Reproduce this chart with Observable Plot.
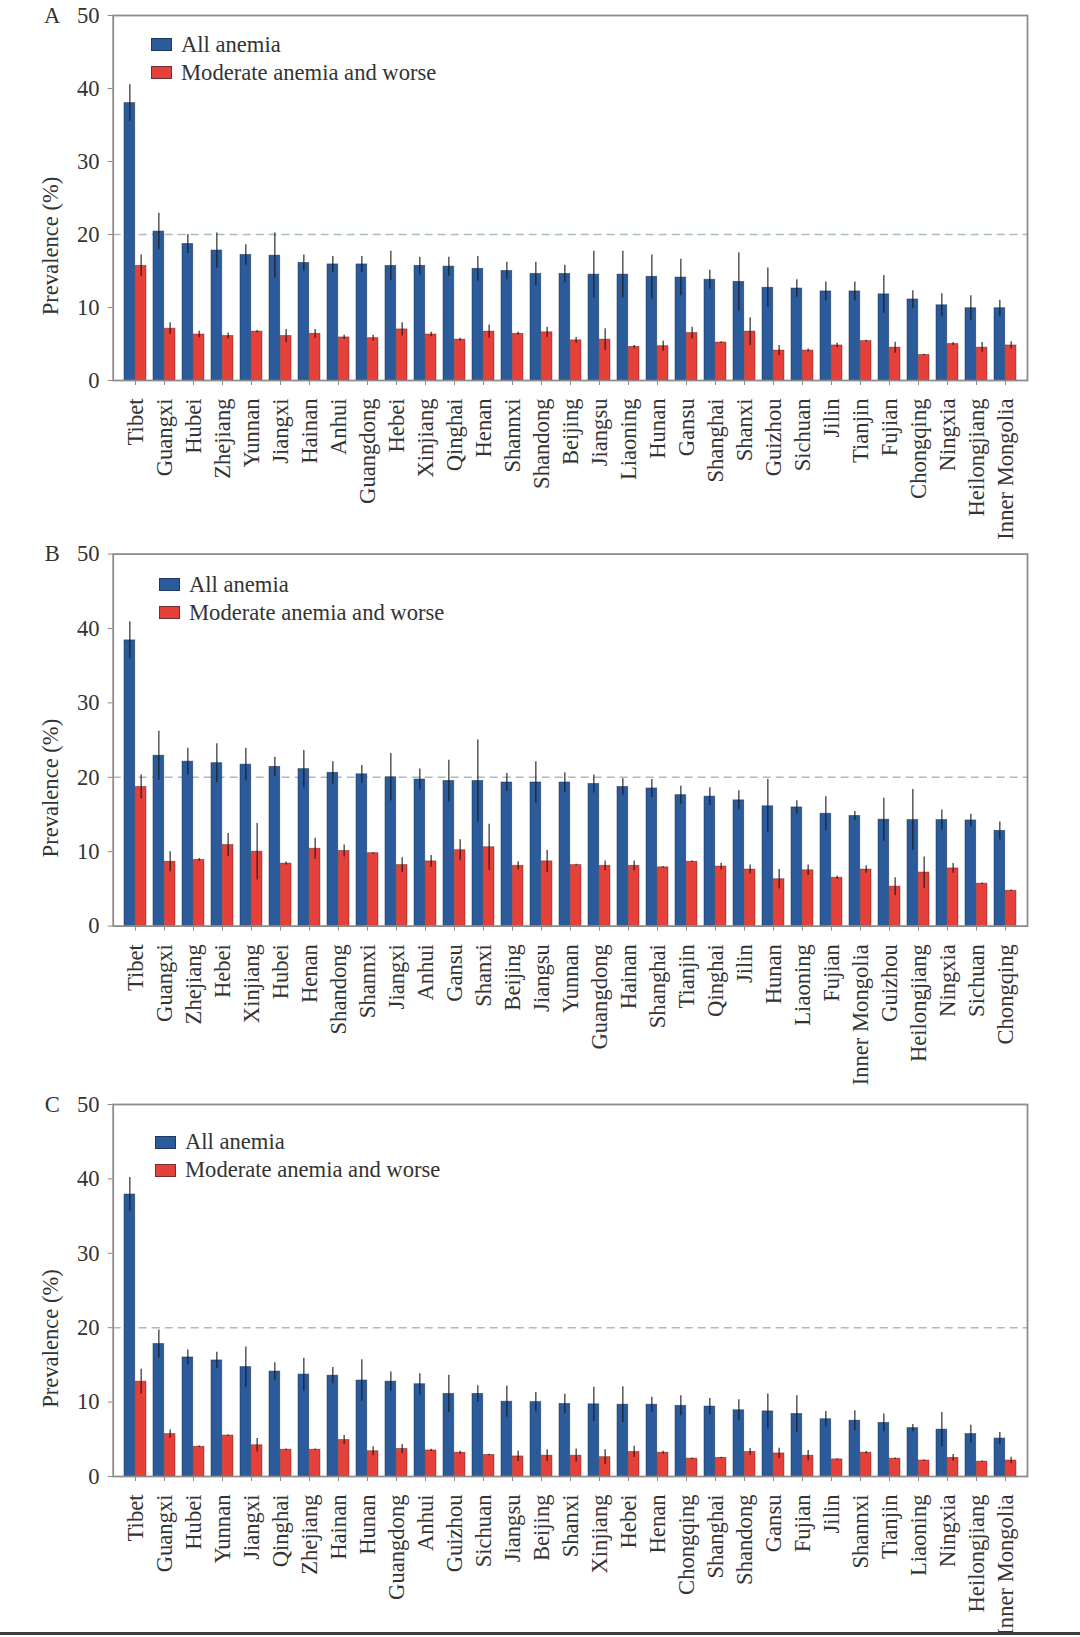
<!DOCTYPE html>
<html>
<head>
<meta charset="utf-8">
<script src="https://cdn.jsdelivr.net/npm/d3@7"></script>
<script src="https://cdn.jsdelivr.net/npm/@observablehq/plot@0.6"></script>
<style>
  html, body { margin: 0; padding: 0; background: #fff; }
  body { width: 1080px; height: 1637px; position: relative; overflow: hidden;
         font-family: "Liberation Serif", "Times New Roman", serif; color: #333; }
  .panel { position: absolute; left: 0; width: 1080px; }
  .panel svg { display: block; }
  .legend { position: absolute; font-size: 22.6px; color: #333; line-height: 28px; }
  .legend .row { display: flex; align-items: center; height: 28px; }
  .legend .sw { width: 21px; height: 13px; margin-right: 9px; border: 1px solid rgba(20,30,50,0.55); box-sizing: border-box; }
  .bottomline { position: absolute; left: 0; top: 1632px; width: 1080px; height: 3px; background: #3d3d3d; }
</style>
</head>
<body>
<div id="panelA" class="panel" style="top:0px"></div>
<div id="panelB" class="panel" style="top:540px"></div>
<div id="panelC" class="panel" style="top:1090px"></div>
<div class="bottomline"></div>
<script>
// ---------------- data ----------------
const seriesNames = ["All anemia", "Moderate anemia and worse"];
const yTicks = [0, 10, 20, 30, 40, 50];
const threshold = [20];
const axisTitle = "Prevalence (%)";

// Panel A
const namesA = ["Tibet","Guangxi","Hubei","Zhejiang","Yunnan","Jiangxi","Hainan","Anhui","Guangdong","Hebei","Xinjiang","Qinghai","Henan","Shannxi","Shandong","Beijing","Jiangsu","Liaoning","Hunan","Gansu","Shanghai","Shanxi","Guizhou","Sichuan","Jilin","Tianjin","Fujian","Chongqing","Ningxia","Heilongjiang","Inner Mongolia"];
const allA    = [38.0,20.4,18.7,17.8,17.2,17.1,16.1,15.9,15.9,15.7,15.7,15.6,15.3,15.0,14.6,14.6,14.5,14.5,14.2,14.1,13.8,13.5,12.7,12.6,12.2,12.2,11.8,11.1,10.3,9.9,9.9];
const allErrA = [2.5,2.5,1.3,2.4,1.4,3.1,1.1,1.1,1.1,2.0,1.2,1.3,1.7,1.2,1.6,1.2,3.2,3.2,3.0,2.5,1.3,4.0,2.7,1.2,1.3,1.3,2.6,1.2,1.6,1.7,1.1];
const modA    = [15.7,7.1,6.3,6.1,6.7,6.1,6.4,5.9,5.8,7.0,6.3,5.6,6.7,6.4,6.6,5.5,5.6,4.6,4.7,6.5,5.2,6.7,4.1,4.1,4.8,5.4,4.5,3.5,5.0,4.5,4.8];
const modErrA = [1.5,0.8,0.45,0.4,0.15,0.9,0.6,0.3,0.4,0.9,0.3,0.2,0.9,0.2,0.7,0.4,1.5,0.2,0.7,0.8,0.1,1.9,0.7,0.2,0.3,0.1,0.75,0.1,0.2,0.7,0.5];

// Panel B
const namesB = ["Tibet","Guangxi","Zhejiang","Hebei","Xinjiang","Hubei","Henan","Shandong","Shannxi","Jiangxi","Anhui","Gansu","Shanxi","Beijing","Jiangsu","Yunnan","Guangdong","Hainan","Shanghai","Tianjin","Qinghai","Jilin","Hunan","Liaoning","Fujian","Inner Mongolia","Guizhou","Heilongjiang","Ningxia","Sichuan","Chongqing"];
const allB    = [38.4,22.9,22.1,21.9,21.7,21.4,21.1,20.6,20.4,20.0,19.7,19.5,19.5,19.3,19.3,19.3,19.1,18.7,18.5,17.6,17.4,16.9,16.1,15.95,15.1,14.8,14.3,14.25,14.25,14.2,12.8];
const allErrB = [2.5,3.3,1.8,2.6,2.2,1.3,2.5,1.5,1.2,3.2,1.4,2.8,5.5,1.2,2.8,1.3,1.2,1.1,1.2,1.2,1.2,1.3,3.6,0.9,2.3,0.6,2.9,4.1,1.35,0.85,1.2];
const modB    = [18.7,8.65,8.9,10.9,10.0,8.4,10.4,10.1,9.8,8.2,8.7,10.2,10.6,8.1,8.7,8.2,8.1,8.1,7.9,8.65,8.0,7.6,6.3,7.5,6.5,7.6,5.3,7.2,7.75,5.7,4.75];
const modErrB = [1.6,1.35,0.2,1.55,3.8,0.2,1.4,0.8,0.1,1.0,0.8,1.4,3.1,0.55,1.45,0.1,0.65,0.65,0.1,0.1,0.45,0.6,1.3,0.7,0.2,0.5,1.2,2.1,0.65,0.1,0.1];

// Panel C
const namesC = ["Tibet","Guangxi","Hubei","Yunnan","Jiangxi","Qinghai","Zhejiang","Hainan","Hunan","Guangdong","Anhui","Guizhou","Sichuan","Jiangsu","Beijing","Shanxi","Xinjiang","Hebei","Henan","Chongqing","Shanghai","Shandong","Gansu","Fujian","Jilin","Shannxi","Tianjin","Liaoning","Ningxia","Heilongjiang","Inner Mongolia"];
const allC    = [37.9,17.8,16.0,15.6,14.7,14.1,13.7,13.55,12.9,12.75,12.4,11.1,11.1,10.05,10.0,9.75,9.7,9.65,9.65,9.5,9.4,8.9,8.75,8.4,7.7,7.5,7.2,6.5,6.3,5.7,5.1];
const allErrC = [2.3,1.9,1.0,1.1,2.7,1.2,2.2,1.1,2.8,1.3,1.4,2.5,1.1,2.1,1.3,1.3,2.3,2.4,1.0,1.35,1.1,1.4,2.35,2.45,1.05,1.35,1.2,0.5,2.3,1.2,0.8];
const modC    = [12.75,5.7,4.0,5.5,4.2,3.6,3.6,4.9,3.4,3.7,3.5,3.2,2.9,2.7,2.8,2.8,2.6,3.3,3.2,2.4,2.5,3.3,3.1,2.8,2.3,3.2,2.4,2.15,2.5,2.0,2.15];
const modErrC = [1.65,0.55,0.1,0.1,0.9,0.1,0.1,0.6,0.6,0.6,0.15,0.2,0.1,0.7,0.8,0.9,1.0,0.75,0.2,0.1,0.1,0.45,0.7,0.7,0.1,0.15,0.1,0.1,0.45,0.1,0.45];

// ---------------- styles ----------------
const BLUE = "#2b5b9b";
const RED = "#e5403a";
const FRAME = "#8c8c8c";
const TEXT = "#333";
const FONT = '"Liberation Serif", "Times New Roman", serif';
const FS = 22.6;

const WIDTH = 1080, ML = 112.7, MR = 53, PAD = 0.23;

function bandwidthOf(n) {
  const W = WIDTH - ML - MR;
  const step = W / (n - PAD + 2 * PAD);
  return step * (1 - PAD);
}

function makePanel(elId, letter, names, all, allErr, mod, modErr, geo) {
  const data = names.map((name, i) => ({
    name, all: all[i], allErr: allErr[i], mod: mod[i], modErr: modErr[i]
  }));
  const bw = bandwidthOf(names.length);
  const chart = Plot.plot({
    width: WIDTH,
    height: geo.height,
    marginTop: geo.mt,
    marginBottom: geo.mb,
    marginLeft: ML,
    marginRight: MR,
    style: { fontFamily: FONT, fontSize: FS + "px", color: TEXT, background: "#fff" },
    x: { domain: names, padding: PAD, label: null },
    y: { domain: [yTicks[0], yTicks[yTicks.length - 1]], label: null },
    marks: [
      Plot.ruleY(threshold, { stroke: "#a6bcc7", strokeWidth: 1.6, strokeDasharray: "8,5" }),
      Plot.barY(data, { x: "name", y: "all", fill: BLUE, stroke: "#142a4a", strokeOpacity: 0.6, strokeWidth: 0.8, insetRight: bw / 2 }),
      Plot.barY(data, { x: "name", y: "mod", fill: RED, stroke: "#4a1512", strokeOpacity: 0.5, strokeWidth: 0.8, insetLeft: bw / 2 }),
      Plot.ruleX(data, { x: "name", y1: d => d.all - d.allErr, y2: d => d.all + d.allErr, dx: -bw / 4, stroke: "#1a1a1a", strokeWidth: 1.1 }),
      Plot.ruleX(data, { x: "name", y1: d => d.mod - d.modErr, y2: d => d.mod + d.modErr, dx: bw / 4, stroke: "#1a1a1a", strokeWidth: 1.1 }),
      Plot.frame({ stroke: FRAME, strokeWidth: 1.8 }),
      Plot.axisY({ ticks: yTicks, tickSize: 5, tickPadding: 8.7, stroke: FRAME, fill: TEXT, fontSize: FS, label: null }),
      Plot.axisX({ tickSize: 5, tickPadding: 13, tickRotate: -90, stroke: FRAME, fill: TEXT, fontSize: FS, label: null }),
      Plot.text([letter], { text: d => d, frameAnchor: "top-left", dx: -61, textAnchor: "middle", lineAnchor: "middle", fontSize: FS, fill: TEXT }),
      Plot.text([axisTitle], { text: d => d, frameAnchor: "left", dx: -62.7, dy: 48, rotate: -90, textAnchor: "middle", lineAnchor: "middle", fontSize: FS, fill: TEXT })
    ]
  });
  const el = document.getElementById(elId);
  el.appendChild(chart);

  // legend (HTML, over the chart)
  const lg = document.createElement("div");
  lg.className = "legend";
  lg.style.left = geo.legendX + "px";
  lg.style.top = (geo.mt + geo.legendY - 14) + "px";
  [BLUE, RED].forEach((c, i) => {
    const row = document.createElement("div");
    row.className = "row";
    const sw = document.createElement("div");
    sw.className = "sw";
    sw.style.background = c;
    const tx = document.createElement("span");
    tx.textContent = seriesNames[i];
    row.appendChild(sw);
    row.appendChild(tx);
    lg.appendChild(row);
  });
  el.appendChild(lg);
}

makePanel("panelA", "A", namesA, allA, allErrA, modA, modErrA, { height: 540, mt: 15, mb: 160, legendX: 151, legendY: 29.5 });
makePanel("panelB", "B", namesB, allB, allErrB, modB, modErrB, { height: 550, mt: 13.6, mb: 164.4, legendX: 159, legendY: 31 });
makePanel("panelC", "C", namesC, allC, allErrC, modC, modErrC, { height: 547, mt: 14, mb: 161, legendX: 155, legendY: 38 });
</script>
</body>
</html>
